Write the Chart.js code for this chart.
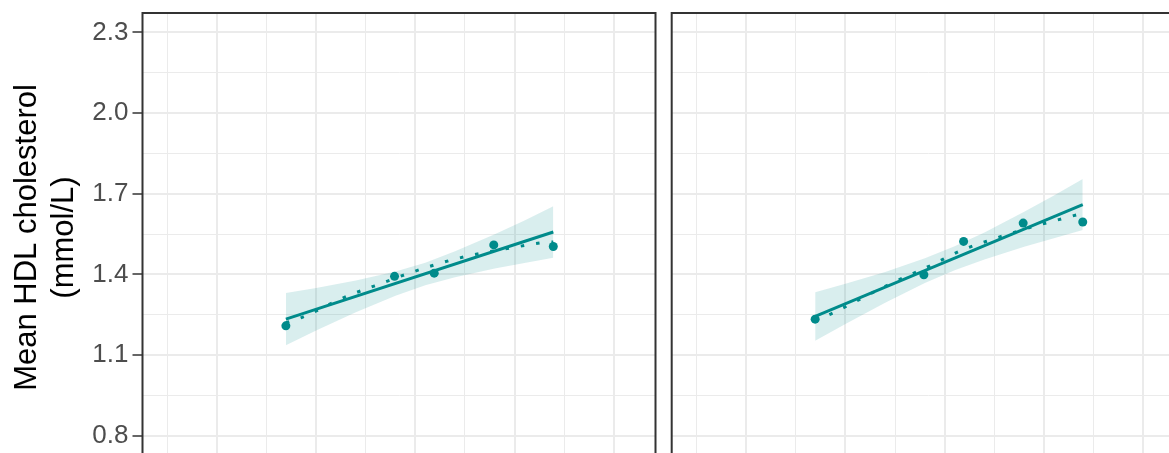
<!DOCTYPE html>
<html lang="en">
<head>
    <meta charset="UTF-8">
    <title>Mean HDL cholesterol</title>
    <style type="text/css">
        html, body { margin: 0; padding: 0; background: #ffffff; }
        .wrap {
            position: relative;
            width: 1169px;
            height: 453px;
            overflow: hidden;
        }
        #leftChart { position: absolute; left: 0; top: 0; }
        #rightChart { position: absolute; left: 660px; top: 0; }
    </style>
</head>
<body>
    <div class="wrap">
        <canvas id="leftChart" width="660" height="470"></canvas>
        <canvas id="rightChart" width="530" height="470"></canvas>
    </div>

    <script src="https://cdn.jsdelivr.net/npm/chart.js"></script>
    <script>
        // axis ticks (x labels are cut off in the picture)
        var yMajor = [0.8, 1.1, 1.4, 1.7, 2.0, 2.3];
        var yMinor = [0.95, 1.25, 1.55, 1.85, 2.15];
        var xMajor = [0, 1, 2, 3, 4];
        var xMinor = [-0.5, 0.5, 1.5, 2.5, 3.5];

        // observed means
        var pointX = [0.695, 1.79, 2.19, 2.79, 3.39];
        var leftY = [1.209, 1.393, 1.405, 1.510, 1.504];
        var rightY = [1.234, 1.399, 1.523, 1.591, 1.595];

        // linear fit ends
        var fitX = [0.695, 3.39];
        var leftFit = [1.234, 1.558];
        var rightFit = [1.244, 1.660];

        // confidence band
        var bandX = [0.695, 1.0, 1.4, 1.8, 2.1, 2.4, 2.8, 3.1, 3.39];
        var leftLo = [1.137, 1.192, 1.260, 1.321, 1.360, 1.390, 1.422, 1.443, 1.462];
        var leftHi = [1.331, 1.350, 1.378, 1.411, 1.444, 1.486, 1.550, 1.601, 1.654];
        var rightLo = [1.154, 1.216, 1.295, 1.368, 1.416, 1.456, 1.503, 1.535, 1.565];
        var rightHi = [1.334, 1.366, 1.409, 1.460, 1.505, 1.556, 1.633, 1.694, 1.755];

        // dotted smoother
        var leftDotX = [0.695, 0.853, 1.289, 1.591, 1.893, 2.195, 2.508, 2.981, 3.293, 3.39];
        var leftDotY = [1.221, 1.240, 1.316, 1.358, 1.399, 1.436, 1.467, 1.500, 1.519, 1.521];
        var rightDotX = [0.695, 0.856, 1.433, 1.873, 2.165, 2.467, 2.920, 3.230, 3.39];
        var rightDotY = [1.228, 1.254, 1.362, 1.436, 1.489, 1.529, 1.581, 1.612, 1.628];

        var teal = '#008B8B';
        Chart.defaults.font.family = "'Liberation Sans', Arial, sans-serif";

        function xy(xs, ys) {
            return xs.map(function (x, i) { return { x: x, y: ys[i] }; });
        }

        function noPad(s) {
            s.paddingTop = 0;
            s.paddingBottom = 0;
            s.paddingLeft = 0;
            s.paddingRight = 0;
        }

        var frame = {
            id: 'frame',
            afterDatasetsDraw: function (chart) {
                var a = chart.chartArea, ctx = chart.ctx;
                ctx.save();
                ctx.strokeStyle = '#333333';
                ctx.lineWidth = 2;
                ctx.strokeRect(a.left, a.top, a.right - a.left, a.bottom - a.top);
                ctx.restore();
            }
        };

        function makeChart(id, ys, fit, lo, hi, dx, dy, showY, pad) {
            return new Chart(document.getElementById(id).getContext('2d'), {
                type: 'line',
                data: {
                    datasets: [{
                        data: xy(pointX, ys),
                        showLine: false,
                        pointRadius: 4.5,
                        pointBackgroundColor: teal,
                        pointBorderWidth: 0,
                        order: 0
                    }, {
                        data: xy(fitX, fit),
                        borderColor: teal,
                        borderWidth: 3,
                        pointRadius: 0,
                        order: 1
                    }, {
                        data: xy(dx, dy),
                        borderColor: teal,
                        borderWidth: 3,
                        borderDash: [3.5, 12],
                        borderCapStyle: 'butt',
                        cubicInterpolationMode: 'monotone',
                        pointRadius: 0,
                        order: 2
                    }, {
                        data: xy(bandX, lo),
                        borderWidth: 0,
                        pointRadius: 0,
                        fill: false,
                        order: 3
                    }, {
                        data: xy(bandX, hi),
                        borderWidth: 0,
                        pointRadius: 0,
                        fill: '-1',
                        backgroundColor: 'rgba(0, 139, 139, 0.15)',
                        order: 4
                    }]
                },
                options: {
                    responsive: false,
                    animation: false,
                    layout: { padding: pad },
                    plugins: {
                        legend: { display: false },
                        tooltip: { enabled: false }
                    },
                    scales: {
                        x: {
                            type: 'linear',
                            min: -0.75,
                            max: 4.42,
                            afterBuildTicks: function (s) {
                                s.ticks = xMinor.concat(xMajor).sort(function (a, b) { return a - b; })
                                    .map(function (v) { return { value: v }; });
                            },
                            afterFit: function (s) { s.height = 0; noPad(s); },
                            ticks: { display: false },
                            border: { display: false },
                            grid: {
                                drawTicks: false,
                                color: '#EBEBEB',
                                lineWidth: function (c) {
                                    return c.tick && xMajor.indexOf(c.tick.value) >= 0 ? 2 : 1;
                                }
                            }
                        },
                        y: {
                            min: 0.703,
                            max: 2.372,
                            afterBuildTicks: function (s) {
                                s.ticks = yMinor.concat(yMajor).sort(function (a, b) { return a - b; })
                                    .map(function (v) { return { value: v }; });
                            },
                            afterFit: function (s) { s.width = showY ? 142.5 : 0; noPad(s); },
                            border: { display: false },
                            ticks: {
                                display: showY,
                                autoSkip: false,
                                padding: 4,
                                color: '#4D4D4D',
                                font: { size: 26 },
                                callback: function (v) {
                                    return yMajor.indexOf(v) >= 0 ? v.toFixed(1) : '';
                                }
                            },
                            grid: {
                                drawTicks: showY,
                                tickLength: 10,
                                tickWidth: 1.5,
                                tickColor: function (c) {
                                    return c.tick && yMajor.indexOf(c.tick.value) >= 0 ? '#333333' : 'rgba(0,0,0,0)';
                                },
                                color: '#EBEBEB',
                                lineWidth: function (c) {
                                    return c.tick && yMajor.indexOf(c.tick.value) >= 0 ? 2 : 1;
                                }
                            },
                            title: {
                                display: showY,
                                text: ['Mean HDL cholesterol', '(mmol/L)'],
                                color: '#000000',
                                font: { size: 31, lineHeight: 1.2 },
                                padding: { top: 9, bottom: 0 }
                            }
                        }
                    }
                },
                plugins: [frame]
            });
        }

        var leftChart = makeChart('leftChart', leftY, leftFit, leftLo, leftHi, leftDotX, leftDotY, true,
            { left: 0, top: 13, right: 4, bottom: 8 });
        var rightChart = makeChart('rightChart', rightY, rightFit, rightLo, rightHi, rightDotX, rightDotY, false,
            { left: 11.7, top: 13, right: 5, bottom: 8 });
    </script>
</body>
</html>
